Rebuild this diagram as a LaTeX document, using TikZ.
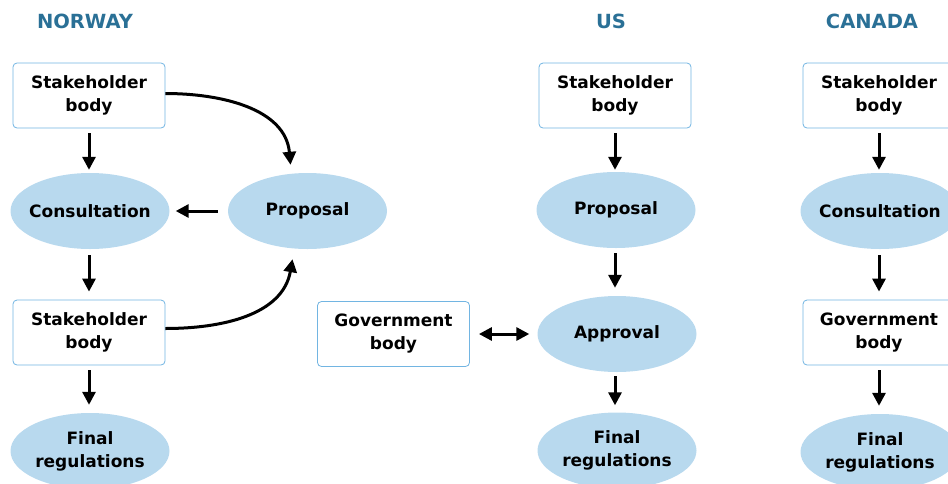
\documentclass[tikz,border=0pt]{standalone}
\usepackage{fontspec}
\setmainfont{DejaVu Sans}
\usetikzlibrary{shapes.geometric,arrows.meta}
\definecolor{titlec}{HTML}{2A7096}
\definecolor{ellc}{HTML}{B8D9EE}
\definecolor{rectc}{HTML}{72B5E2}
\begin{document}
\begin{tikzpicture}[x=1pt,y=-1pt,
  every node/.style={font=\bfseries\fontsize{17}{23}\selectfont, align=center},
  title/.style={font=\bfseries\fontsize{19.5}{22}\selectfont, text=titlec},
  ell/.style={ellipse, fill=ellc, minimum width=159pt, minimum height=76pt, inner xsep=-30pt, inner ysep=0pt},
  box/.style={rectangle, draw=rectc, line width=0.8pt, rounded corners=4pt, fill=white, minimum width=152pt, minimum height=65pt, inner sep=0pt},
  arr/.style={line width=3pt, -{Triangle[length=13pt,width=13pt]}},
  darr/.style={line width=3pt, {Triangle[length=13pt,width=13pt]}-{Triangle[length=13pt,width=13pt]}}
]
\useasboundingbox (0,0) rectangle (948,483);
\begin{scope}
\clip (0,0) rectangle (948,483);
% titles
\node[title] (tn) at (85,21) {NORWAY};
\node[title] (tu) at (611,21) {US};
\node[title] (tc) at (872,21) {CANADA};
% Norway
\node[box] (nsb1) at (89,95.5) {Stakeholder\\body};
\node[ell] (ncons) at (90,211) {Consultation};
\node[ell] (nprop) at (307.5,211) {Proposal};
\node[box] (nsb2) at (89,332.5) {Stakeholder\\body};
\node[ell] (nfin) at (90,451) {Final\\regulations};
\draw[arr] ([yshift=-5pt]nsb1.south) -- ([yshift=3pt]nsb1.south |- ncons.north);
\draw[arr] ([xshift=-10pt]nprop.west) -- ([xshift=6pt]ncons.east);
\draw[arr] ([yshift=-6pt]nsb2.north |- ncons.south) -- ([yshift=8pt]nsb2.north);
\draw[arr] ([yshift=-5pt]nsb2.south) -- ([yshift=8pt]nsb2.south |- nfin.north);
\draw[arr] ([yshift=2pt]nsb1.east) to[out=0,in=95] ([xshift=-17pt,yshift=8pt]nprop.north);
\draw[arr] ([yshift=4pt]nsb2.east) to[out=0,in=-100] ([xshift=-15pt,yshift=-10pt]nprop.south);
% Government (US)
\node[box] (gov) at (393.5,334) {Government\\body};
% US
\node[box] (usb) at (615,95.5) {Stakeholder\\body};
\node[ell] (uprop) at (616,210) {Proposal};
\node[ell] (uapp) at (617,334) {Approval};
\node[ell] (ufin) at (617,450.5) {Final\\regulations};
\draw[arr] ([yshift=-5pt]usb.south) -- ([yshift=2pt]usb.south |- uprop.north);
\draw[arr] ([yshift=-5pt]usb.south |- uprop.south) -- ([yshift=8pt]usb.south |- uapp.north);
\draw[arr] ([yshift=-4pt]usb.south |- uapp.south) -- ([yshift=7pt]usb.south |- ufin.north);
\draw[darr] ([xshift=9pt]gov.east) -- ([xshift=-8pt]uapp.west);
% Canada
\node[box] (csb) at (879,95.5) {Stakeholder\\body};
\node[ell] (ccons) at (880,211) {Consultation};
\node[box] (cgov) at (879,332.5) {Government\\body};
\node[ell] (cfin) at (880,452) {Final\\regulations};
\draw[arr] ([yshift=-5pt]csb.south) -- ([yshift=3pt]csb.south |- ccons.north);
\draw[arr] ([yshift=-6pt]cgov.north |- ccons.south) -- ([yshift=8pt]cgov.north);
\draw[arr] ([yshift=-5pt]cgov.south) -- ([yshift=8pt]cgov.south |- cfin.north);
\end{scope}
\end{tikzpicture}
\end{document}
